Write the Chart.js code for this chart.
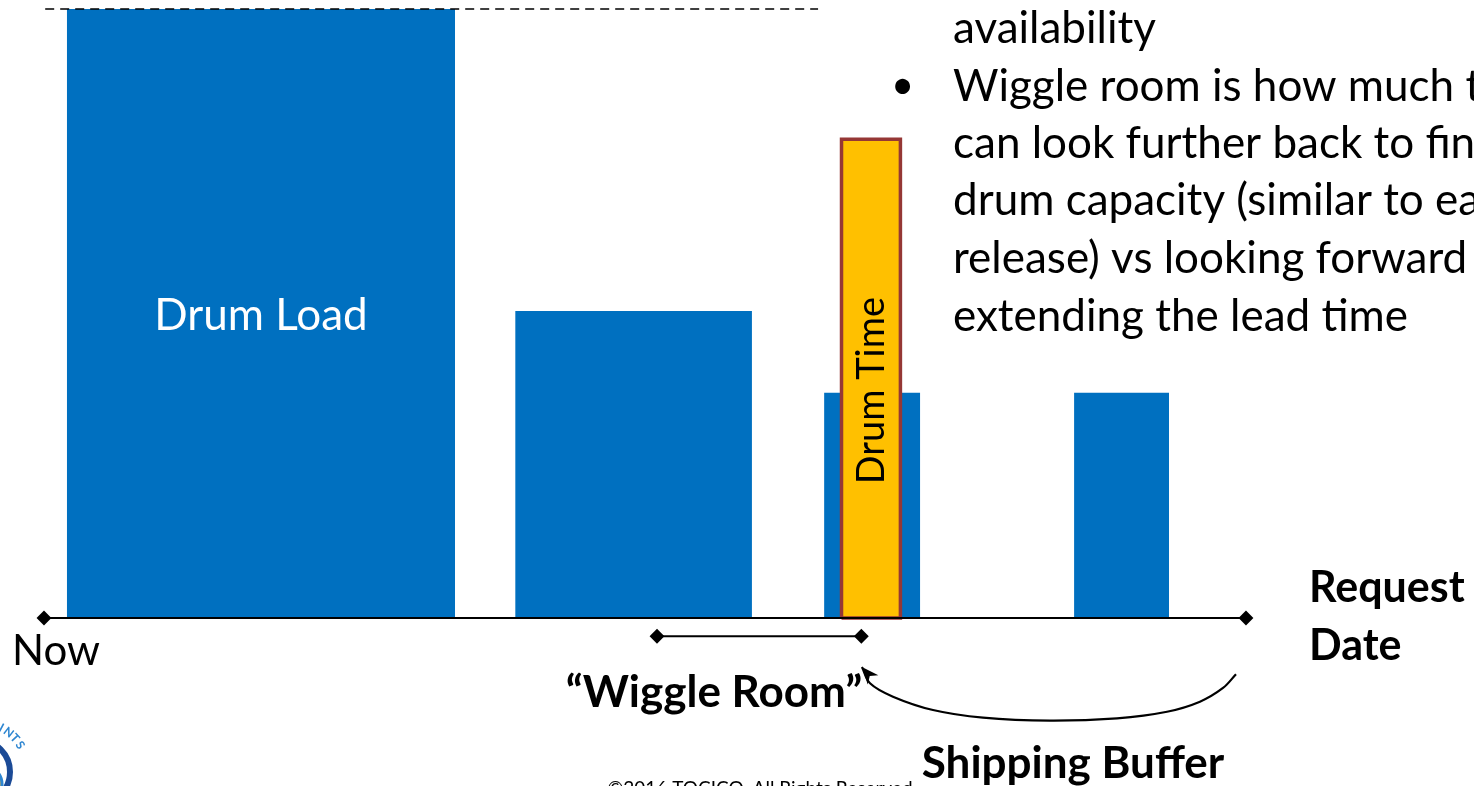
<!DOCTYPE html>
<html>
<head>
<meta charset="utf-8">
<script src="https://cdn.jsdelivr.net/npm/chart.js@4.4.1/dist/chart.umd.min.js"></script>
<style>
  html, body { margin: 0; padding: 0; background: #fff; overflow: hidden; }
  #wrap { width: 1474px; height: 786px; }
</style>
</head>
<body>
<div id="wrap"><canvas id="drumChart" width="1474" height="786"></canvas></div>
<script>
// timeline: Now = 0, request date = 100
const timelineStart = 0;
const timelineEnd = 100;

// load already booked on the drum, one block per slot
const loadStart = [1.9, 39.2, 64.9, 85.7];
const loadEnd = [34.2, 58.9, 72.9, 93.6];
const loadHeight = [100, 50.4, 37, 37];

// the order being scheduled on the drum
const drumTimeStart = 66.35;
const drumTimeEnd = 71.25;
const drumTimeHeight = 78.6;

// capacity limit (dashed line)
const capacityLevel = 100;
const capacityFrom = 0.1;
const capacityTo = 64.4;

// wiggle room span, just under the timeline
const wiggleFrom = 51.0;
const wiggleTo = 68.0;
const wiggleLevel = -3;

// shipping buffer arc, from the request date back to the drum time (last point = arrow tip)
const bufferX = [99.17, 98.09, 96.17, 93.43, 89.27, 83.69, 78.12, 73.96, 70.63, 68.72, 68.05];
const bufferY = [-9.24, -11.49, -13.74, -15.39, -16.47, -16.86, -16.37, -15.11, -12.92, -10.72, -8.05];

const bulletLines = [
    'availability',
    'Wiggle room is how much time we',
    'can look further back to find',
    'drum capacity (similar to early',
    'release) vs looking forward and',
    'extending the lead time'
];

const BLUE = '#0070C0';
const FONT = 'Lato, "Open Sans", sans-serif';

function box(x0, x1, h, closed) {
    const pts = [{x: x0, y: 0}, {x: x0, y: h}, {x: x1, y: h}, {x: x1, y: 0}];
    if (closed) pts.push({x: x0, y: 0});
    return pts;
}

const loadSets = loadStart.map((s, i) => ({
    label: 'Load ' + (i + 1),
    data: box(s, loadEnd[i], loadHeight[i]),
    borderWidth: 0,
    borderColor: BLUE,
    backgroundColor: BLUE,
    fill: 'origin',
    pointRadius: 0,
    order: 5
}));

const datasets = [
    {
        label: 'Timeline',
        data: [{x: timelineStart, y: 0}, {x: timelineEnd, y: 0}],
        borderColor: '#000',
        borderWidth: 2,
        pointStyle: 'rectRot',
        pointRadius: 6,
        pointBackgroundColor: '#000',
        pointBorderColor: '#000',
        fill: false,
        order: 0
    },
    {
        label: 'Wiggle Room',
        data: [{x: wiggleFrom, y: wiggleLevel}, {x: wiggleTo, y: wiggleLevel}],
        borderColor: '#000',
        borderWidth: 2,
        pointStyle: 'rectRot',
        pointRadius: 6,
        pointBackgroundColor: '#000',
        pointBorderColor: '#000',
        fill: false,
        order: 0
    },
    {
        label: 'Shipping Buffer',
        data: bufferX.map((x, i) => ({x: x, y: bufferY[i]})),
        borderColor: '#000',
        borderWidth: 2.2,
        tension: 0.35,
        pointRadius: 0,
        fill: false,
        order: 0
    },
    {
        label: 'Capacity',
        data: [{x: capacityFrom, y: capacityLevel}, {x: capacityTo, y: capacityLevel}],
        borderColor: '#000',
        borderWidth: 1.5,
        borderDash: [9, 6],
        pointRadius: 0,
        fill: false,
        order: 1
    },
    {
        // outline of the drum time block
        label: 'Drum Time',
        data: box(drumTimeStart, drumTimeEnd, drumTimeHeight, true),
        borderColor: '#953735',
        borderWidth: 3.5,
        pointRadius: 0,
        fill: false,
        order: 2
    },
    {
        label: 'Drum Time fill',
        data: box(drumTimeStart, drumTimeEnd, drumTimeHeight),
        borderWidth: 0,
        borderColor: '#FFC000',
        backgroundColor: '#FFC000',
        fill: 'origin',
        pointRadius: 0,
        order: 3
    },
    ...loadSets
];

// text, arrow head and logo drawn on top of the chart
const overlay = {
    id: 'overlay',
    afterDraw(chart) {
        const ctx = chart.ctx;
        const xs = chart.scales.x, ys = chart.scales.y;
        ctx.save();

        // arrow head on the shipping buffer arc
        const pts = chart.getDatasetMeta(2).data;
        const tip = pts[pts.length - 1], prev = pts[pts.length - 2];
        const ang = Math.atan2(tip.y - prev.y, tip.x - prev.x) - 0.25;
        ctx.fillStyle = '#000';
        ctx.beginPath();
        ctx.moveTo(tip.x, tip.y);
        ctx.lineTo(tip.x - 17 * Math.cos(ang) + 7 * Math.sin(ang), tip.y - 17 * Math.sin(ang) - 7 * Math.cos(ang));
        ctx.lineTo(tip.x - 12 * Math.cos(ang), tip.y - 12 * Math.sin(ang));
        ctx.lineTo(tip.x - 17 * Math.cos(ang) - 7 * Math.sin(ang), tip.y - 17 * Math.sin(ang) + 7 * Math.cos(ang));
        ctx.closePath();
        ctx.fill();

        // labels inside the bars
        ctx.textBaseline = 'middle';
        ctx.textAlign = 'center';
        ctx.fillStyle = '#fff';
        ctx.font = '44px ' + FONT;
        ctx.fillText('Drum Load', xs.getPixelForValue((loadStart[0] + loadEnd[0]) / 2), ys.getPixelForValue(loadHeight[0] / 2) + 2);

        ctx.save();
        ctx.translate(xs.getPixelForValue((drumTimeStart + drumTimeEnd) / 2) + 1, ys.getPixelForValue(drumTimeHeight * 0.475));
        ctx.rotate(-Math.PI / 2);
        ctx.fillStyle = '#000';
        ctx.font = '38px ' + FONT;
        ctx.fillText('Drum Time', 0, 0);
        ctx.restore();

        // axis labels
        ctx.textBaseline = 'alphabetic';
        ctx.fillStyle = '#000';
        ctx.textAlign = 'left';
        ctx.font = '42px ' + FONT;
        ctx.fillText('Now', 12, 665);
        ctx.font = 'bold 43px ' + FONT;
        ctx.fillText('Request', 1309, 602);
        ctx.fillText('Date', 1309, 660);
        ctx.font = 'bold 44px ' + FONT;
        ctx.textAlign = 'center';
        ctx.fillText('\u201CWiggle Room\u201D', 714, 707);
        ctx.fillText('Shipping Buffer', 1073, 778);

        // bullet text on the right
        ctx.textAlign = 'left';
        ctx.font = '44px ' + FONT;
        const baselines = [43, 101, 158, 215, 273, 331];
        bulletLines.forEach((t, i) => ctx.fillText(t, 953, baselines[i]));
        ctx.font = '40px ' + FONT;
        ctx.fillText('\u2022', 891, 99);

        // footer
        ctx.textAlign = 'center';
        ctx.font = '19px ' + FONT;
        ctx.fillText('\u00A92016 TOCICO. All Rights Reserved', 760, 795);

        // corner logo, mostly cut off
        ctx.lineWidth = 6;
        ctx.strokeStyle = '#1B4A96';
        ctx.beginPath();
        ctx.arc(-22, 772, 32, -Math.PI / 2, Math.PI / 2);
        ctx.stroke();
        ctx.fillStyle = '#D8B24E';
        ctx.beginPath();
        ctx.arc(-16, 784, 18, 0, Math.PI * 2);
        ctx.fill();
        ctx.strokeStyle = '#2E86D1';
        ctx.lineWidth = 3;
        ctx.beginPath();
        ctx.arc(-16, 784, 18, 0, Math.PI * 2);
        ctx.stroke();
        ctx.fillStyle = '#2E86D1';
        ctx.font = 'bold 12px ' + FONT;
        const letters = 'AINTS';
        for (let i = 0; i < letters.length; i++) {
            const a = -1.25 + i * 0.17;
            ctx.save();
            ctx.translate(-22 + 46 * Math.cos(a), 772 + 46 * Math.sin(a));
            ctx.rotate(a + Math.PI / 2);
            ctx.fillText(letters[i], 0, 0);
            ctx.restore();
        }
        ctx.restore();
    }
};

new Chart(document.getElementById('drumChart'), {
    type: 'line',
    data: { datasets: datasets },
    options: {
        responsive: false,
        animation: false,
        devicePixelRatio: 1,
        layout: { padding: 0, autoPadding: false },
        plugins: {
            legend: { display: false },
            tooltip: { enabled: false }
        },
        scales: {
            x: { type: 'linear', min: -3.66, max: 118.97, display: false },
            y: { type: 'linear', min: -27.59, max: 101.48, display: false }
        }
    },
    plugins: [overlay]
});
</script>
</body>
</html>
